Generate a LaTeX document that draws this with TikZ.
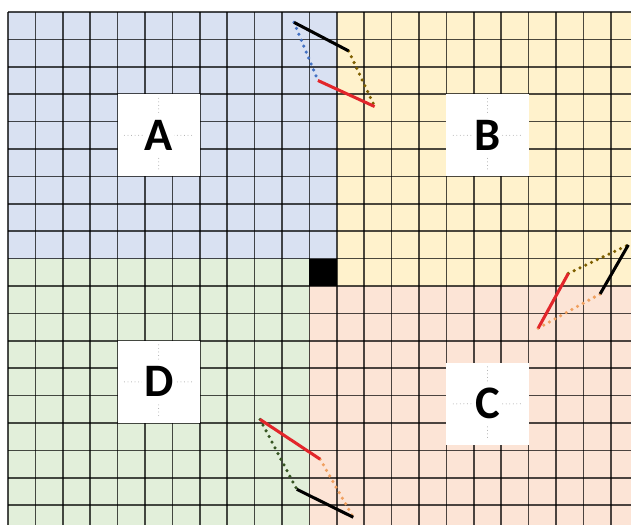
\documentclass[tikz,border=0pt]{standalone}
\usepackage{fontspec}
\setmainfont{Carlito}
\usetikzlibrary{positioning,calc}
\definecolor{Ink}{HTML}{000000}
\definecolor{BlueSoft}{HTML}{D9E1F2}
\definecolor{GoldSoft}{HTML}{FFF2CC}
\definecolor{PeachSoft}{HTML}{FCE4D6}
\definecolor{GreenSoft}{HTML}{E2EFDA}
\definecolor{Blue}{HTML}{4472C4}
\definecolor{Olive}{HTML}{7F6000}
\definecolor{Orange}{HTML}{F0A060}
\definecolor{Forest}{HTML}{375623}
\definecolor{Red}{HTML}{E2262B}
\definecolor{Guide}{HTML}{A6A6A6}

\begin{document}
\begin{tikzpicture}[x=0.6cm,y=-0.6cm]
\tikzset{gridline/.style={Ink,line width=1.1pt,opacity=.7},
 labelbox/.style={fill=white,minimum size=1.8cm,inner sep=0pt,outer sep=0pt},
 letter/.style={fill=white,inner xsep=1pt,inner ysep=4pt,text=Ink,font=\fontsize{29}{29}\selectfont\bfseries},
 guide/.style={Guide,line width=0.6pt,dash pattern=on 0pt off 2.2pt,line cap=round},
 bond/.style={line width=1.9pt},
 side/.style={line width=2.2pt,dash pattern=on 0pt off 4pt,line cap=round}}
\useasboundingbox (-0.292,-0.438) rectangle (22.737,18.723);
% quadrants and the centre cell
\fill[BlueSoft] (0,0) rectangle (12,9);
\fill[GoldSoft] (12,0) rectangle (22.74,10);
\fill[PeachSoft] (11,10) rectangle (22.74,18.73);
\fill[GreenSoft] (0,9) rectangle (11,18.73);
% grid
\foreach \c in {0,...,22} \draw[gridline] (\c,0) -- (\c,18.73);
\foreach \r in {0,...,18} \draw[gridline] (0,\r) -- (22.74,\r);
\fill[Ink] (11,9) rectangle (12,10);
% label boxes
\foreach \name/\pos in {A/{(5.5,4.5)},B/{(17.5,4.5)},C/{(17.5,14.3)},D/{(5.5,13.5)}}{
  \node[labelbox] (box\name) at \pos {};
  \draw[guide] ($(box\name.west)+(0.25,0)$) -- ($(box\name.east)-(0.25,0)$);
  \draw[guide] ($(box\name.north)+(0,0.15)$) -- ($(box\name.south)-(0,0.15)$);
  \node[letter] (lab\name) at (box\name) {\name};
}
% A/B crossing
\coordinate (abTL) at (10.44,0.38);
\coordinate (abTR) at (12.43,1.42);
\coordinate (abBL) at (11.31,2.50);
\coordinate (abBR) at (13.38,3.45);
\draw[side,Blue] (abTL) -- (abBL);
\draw[side,Olive] (abTR) -- (abBR);
\draw[bond,Ink] (abTL) -- (abTR);
\draw[bond,Red] (abBL) -- (abBR);
% B/C crossing
\coordinate (bcRT) at (20.45,9.54);
\coordinate (bcRB) at (19.35,11.54);
\coordinate (bcKT) at (22.64,8.50);
\coordinate (bcKB) at (21.61,10.29);
\draw[side,Olive] (bcRT) -- (bcKT);
\draw[side,Orange] (bcRB) -- (bcKB);
\draw[bond,Red] (bcRT) -- (bcRB);
\draw[bond,Ink] (bcKT) -- (bcKB);
% D/C crossing
\coordinate (dcRL) at (9.20,14.87);
\coordinate (dcRR) at (11.39,16.32);
\coordinate (dcKL) at (10.54,17.42);
\coordinate (dcKR) at (12.60,18.44);
\draw[side,Forest] (dcRL) -- (dcKL);
\draw[side,Orange] (dcRR) -- (dcKR);
\draw[bond,Red] (dcRL) -- (dcRR);
\draw[bond,Ink] (dcKL) -- (dcKR);
\end{tikzpicture}
\end{document}
